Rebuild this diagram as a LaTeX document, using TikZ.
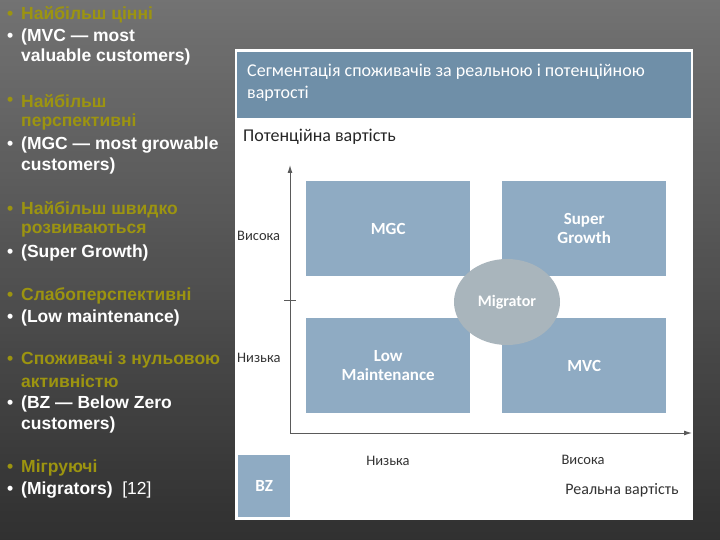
\documentclass[tikz,border=0pt]{standalone}
\usepackage{fontspec}
\setmainfont{Liberation Sans}
\newfontfamily\carlitofnt{Carlito}
\usetikzlibrary{shapes.geometric,arrows.meta}
\definecolor{yel}{HTML}{9C9410}
\definecolor{quad}{HTML}{8FABC3}
\definecolor{band}{HTML}{6F8FA8}
\definecolor{mig}{HTML}{A9B5BC}
\definecolor{axc}{HTML}{5A5A5A}
\begin{document}
\begin{tikzpicture}[x=1pt,y=-1pt,
 ln/.style={anchor=west,inner sep=0pt,font=\fontsize{17.5}{19}\selectfont\bfseries},
 yl/.style={ln,text=yel},
 wl/.style={ln,text=white},
 qbox/.style={fill=quad,draw=none,minimum width=164pt,minimum height=95pt,inner sep=0pt,text=white,font=\carlitofnt\bfseries\fontsize{17}{19}\selectfont,align=center},
 lab/.style={font=\carlitofnt\fontsize{14.5}{16}\selectfont,text=black!80,inner sep=0pt}]
\shade[left color=black!55,right color=black!75,shading angle=0] (0,0) rectangle (720,540);
\shade[top color=black!55,bottom color=black!85,opacity=0.6] (0,0) rectangle (720,540);
\useasboundingbox (0,0) rectangle (720,540);
% left list
\foreach \y/\t/\s/\b in {15/Найбільш цінні/yl/1,37/(MVC — most/wl/1,57/valuable customers)/wl/0,
 101/Найбільш/yl/1,122/перспективні/yl/0,145/(MGC — most growable/wl/1,166/customers)/wl/0,
 210/Найбільш швидко/yl/1,231/розвиваються/yl/0,253/(Super Growth)/wl/1,
 296/Слабоперспективні/yl/1,318/(Low maintenance)/wl/1,
 360/Споживачі з нульовою/yl/1,381/ активністю/yl/0,404/(BZ — Below Zero/wl/1,425/customers)/wl/0,
 468/Мігруючі/yl/1,490/(Migrators)\ \ \mdseries[12]/wl/1}{
 \node[\s] (t\y) at (21,\y) {\t};
 \ifnum\b=1 \node[\s] (b\y) at (7,\y) {•};\fi
}
% panel
\node[fill=white,minimum width=458pt,minimum height=471pt,anchor=north west,inner sep=0pt] (panel) at (235,49) {};
\node[fill=band,minimum width=454pt,minimum height=66pt,anchor=north west,inner sep=0pt] (band) at (237,52) {};
\node[anchor=north west,text=white,font=\carlitofnt\fontsize{18}{22}\selectfont,align=left,inner sep=0pt] (title) at (247,64) {Сегментація споживачів за реальною і потенційною\\вартості};
\node[anchor=west,font=\carlitofnt\fontsize{18}{20}\selectfont,text=black!85,inner sep=0pt] (pv) at (243,137) {Потенційна вартість};
% axes
\coordinate (o) at (290,433);
\coordinate (ytop) at (290,165);
\coordinate (xend) at (692,433);
\draw[axc,line width=1pt,-{Latex[length=8pt,width=5pt]}] (o) -- (ytop);
\draw[axc,line width=1pt,-{Latex[length=8pt,width=5pt]}] (o) -- (xend);
\coordinate (tl) at (284,300); \coordinate (tr) at (296,300);
\draw[axc,line width=1pt] (tl) -- (tr);
% quadrants
\node[qbox,anchor=north west] (mgc) at (306,181) {MGC};
\node[qbox,anchor=north west] (sg) at (502,181) {Super\\Growth};
\node[qbox,anchor=north west] (lm) at (306,318) {Low\\Maintenance};
\node[qbox,anchor=north west] (mvc) at (502,318) {MVC};
\node[ellipse,fill=mig,minimum width=106pt,minimum height=86pt,text=white,font=\carlitofnt\bfseries\fontsize{16}{18}\selectfont] (mg) at (507,302) {Migrator};
\node[qbox,anchor=north west,minimum width=52pt,minimum height=62pt] (bz) at (238,455) {BZ};
% labels
\node[lab,anchor=west] (vh) at (237,236) {Висока};
\node[lab,anchor=west] (vl) at (237,358) {Низька};
\node[lab] (hl) at (388,461) {Низька};
\node[lab] (hh) at (583,460) {Висока};
\node[lab,font=\carlitofnt\fontsize{16}{18}\selectfont] (rv) at (622,490) {Реальна вартість};
\end{tikzpicture}
\end{document}
